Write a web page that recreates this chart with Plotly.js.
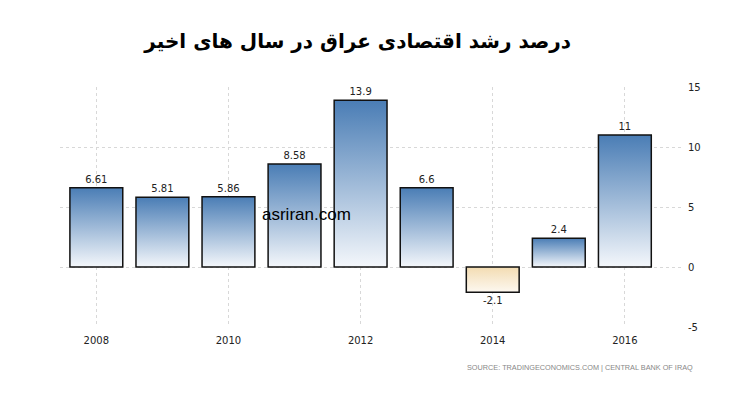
<!DOCTYPE html>
<html><head><meta charset="utf-8">
<script src="https://cdn.plot.ly/plotly-3.0.1.min.js"></script>
<style>body{margin:0;background:#fff}#chart{width:730px;height:400px}</style>
</head><body><div id="chart"></div>
<script>
const years = [2008, 2009, 2010, 2011, 2012, 2013, 2014, 2015, 2016];
const growth = [6.61, 5.81, 5.86, 8.58, 13.9, 6.6, -2.1, 2.4, 11];
const labels = ['6.61', '5.81', '5.86', '8.58', '13.9', '6.6', '-2.1', '2.4', '11'];
const xTicks = [2008, 2010, 2012, 2014, 2016];
const yTicks = [-5, 0, 5, 10, 15];

const trace = {
  type: 'bar', x: years, y: growth, width: 0.8,
  text: labels, textposition: 'outside', cliponaxis: false,
  textfont: {family: 'DejaVu Sans', size: 10, color: '#222'},
  marker: {color: growth.map(v => v >= 0 ? '#7fa6cf' : '#f7e6c8'), line: {color: '#111', width: 1.5}},
  hoverinfo: 'skip'
};
const layout = {
  width: 730, height: 400,
  margin: {l: 60, r: 47, t: 87, b: 73},
  paper_bgcolor: '#fff', plot_bgcolor: '#fff',
  showlegend: false, bargap: 0.2,
  title: {text: 'درصد رشد اقتصادی عراق در سال های اخیر', x: 0.49, xanchor: 'center', y: 0.915,
    font: {family: 'DejaVu Sans', size: 20, color: '#000', weight: 'bold'}},
  xaxis: {range: [2007.45, 2016.88], tickvals: xTicks, ticktext: xTicks.map(String),
    showgrid: true, gridcolor: '#d8d8d8', griddash: 'dot', gridwidth: 1,
    zeroline: false, showline: false, ticks: '', ticklen: 0, ticklabelstandoff: 6,
    tickfont: {family: 'DejaVu Sans', size: 10, color: '#222'}},
  yaxis: {range: [-5, 15], side: 'right', tickvals: yTicks, ticktext: yTicks.map(String),
    showgrid: true, gridcolor: '#d8d8d8', griddash: 'dot', gridwidth: 1,
    zeroline: false, showline: false, ticks: '', ticklabelstandoff: 4,
    tickfont: {family: 'DejaVu Sans', size: 10, color: '#222'}},
  annotations: [
    {text: 'asriran.com', xref: 'paper', yref: 'paper', x: 0.395, y: 0.467, xanchor: 'center', yanchor: 'middle',
      showarrow: false, font: {family: 'Liberation Sans', size: 17, color: '#000'}},
    {text: 'SOURCE: TRADINGECONOMICS.COM | CENTRAL BANK OF IRAQ', xref: 'paper', yref: 'paper', x: 1.02, y: -0.17,
      xanchor: 'right', yanchor: 'middle', showarrow: false,
      font: {family: 'Liberation Sans', size: 7.3, color: '#888'}}
  ]
};
Plotly.newPlot('chart', [trace], layout, {displayModeBar: false, staticPlot: true}).then(gd => {
  const svg = gd.querySelector('svg.main-svg');
  const ns = 'http://www.w3.org/2000/svg';
  let defs = svg.querySelector('defs');
  if (!defs) { defs = document.createElementNS(ns, 'defs'); svg.insertBefore(defs, svg.firstChild); }
  function grad(id, c1, c2) {
    const g = document.createElementNS(ns, 'linearGradient');
    g.setAttribute('id', id); g.setAttribute('x1', '0'); g.setAttribute('y1', '0'); g.setAttribute('x2', '0'); g.setAttribute('y2', '1');
    [[0, c1], [1, c2]].forEach(([o, c]) => { const s = document.createElementNS(ns, 'stop'); s.setAttribute('offset', o); s.setAttribute('stop-color', c); g.appendChild(s); });
    defs.appendChild(g);
  }
  grad('gpos', '#4a7db5', '#f4f7fb');
  grad('gneg', '#f3dcb2', '#fdf8f0');
  gd.querySelectorAll('.bars .point path').forEach((p, i) => {
    p.style.fill = growth[i] >= 0 ? 'url(#gpos)' : 'url(#gneg)';
  });
});
</script></body></html>
